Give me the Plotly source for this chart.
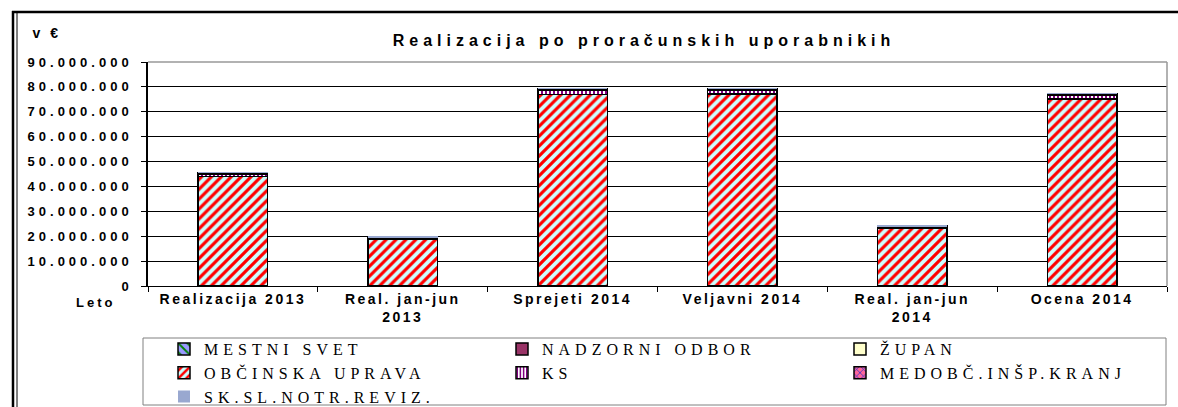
import plotly.graph_objects as go

categories = ["Realizacija 2013", "Real. jan-jun<br>2013", "Sprejeti 2014",
              "Veljavni 2014", "Real. jan-jun<br>2014", "Ocena 2014"]

mestni_svet = [150000, 80000, 300000, 300000, 100000, 250000]
nadzorni_odbor = [20000, 10000, 30000, 30000, 10000, 20000]
zupan = [250000, 120000, 300000, 300000, 120000, 280000]
obcinska_uprava = [44000000, 18900000, 77000000, 77100000, 23300000, 75200000]
ks = [1100000, 500000, 1500000, 1500000, 500000, 1400000]
medobc = [150000, 70000, 200000, 200000, 70000, 170000]
sk_sl = [50000, 20000, 70000, 70000, 20000, 50000]

y_ticks = [0, 10000000, 20000000, 30000000, 40000000, 50000000,
           60000000, 70000000, 80000000, 90000000]

# (name, values, marker, legend rank); drawn bottom -> top in list order
series = [
    ("OBČINSKA UPRAVA", obcinska_uprava, dict(color="#ccffff", pattern=dict(shape="/", fgcolor="#ff0000", bgcolor="#ccffff", size=7, solidity=0.45, fillmode="replace")), 4),
    ("KS", ks, dict(color="#ffffff", pattern=dict(shape="|", fgcolor="#800080", bgcolor="#ffffff", size=4, solidity=0.5, fillmode="replace")), 5),
    ("MESTNI SVET", mestni_svet, dict(color="#9999ff", pattern=dict(shape="\\", fgcolor="#008000", bgcolor="#9999ff", size=8, solidity=0.3, fillmode="replace")), 1),
    ("NADZORNI ODBOR", nadzorni_odbor, dict(color="#993366"), 2),
    ("ŽUPAN", zupan, dict(color="#ffffcc"), 3),
    ("MEDOBČ.INŠP.KRANJ", medobc, dict(color="#ff6699", pattern=dict(shape="x", fgcolor="#3333cc", bgcolor="#ff6699", size=6, solidity=0.3, fillmode="replace")), 6),
    ("SK.SL.NOTR.REVIZ.", sk_sl, dict(color="#99a8d0"), 7),
]

fig = go.Figure()
for name, vals, mk, rank in series:
    line_w = 0 if name.startswith("SK") else 1.5
    mk = dict(mk)
    mk["line"] = dict(color="#000000", width=line_w)
    fig.add_trace(go.Bar(name=name, x=categories, y=vals, marker=mk, legendrank=rank))

W, H = 1178, 407
L, R, T, B = 148, 11, 62, 121

def px_x(px):
    return (px - L) / (W - L - R)

def px_y(py):
    return (H - B - py) / (H - T - B)

fig.update_layout(
    width=W, height=H,
    margin=dict(l=L, r=R, t=T, b=B, autoexpand=False),
    barmode="stack",
    bargap=0.59,
    separators=",.",
    paper_bgcolor="white",
    plot_bgcolor="white",
    font=dict(family="Liberation Sans, Arial, sans-serif", color="#000000"),
    showlegend=True,
    legend=dict(
        orientation="h",
        x=px_x(164), xanchor="left",
        y=px_y(332), yanchor="top",
        entrywidth=293,
        entrywidthmode="pixels",
        font=dict(family="Liberation Serif, Times New Roman, serif", size=16, color="#000000"),
        bgcolor="rgba(0,0,0,0)",
        borderwidth=0,
        traceorder="normal",
        tracegroupgap=0,
    ),
    title=dict(
        text="<b>Realizacija po proračunskih uporabnikih</b>",
        x=644 / W, xanchor="center",
        y=1 - 40 / H, yanchor="middle",
        font=dict(size=16, family="Liberation Sans, Arial, sans-serif"),
    ),
)

fig.update_yaxes(
    range=[0, 90000000],
    tickvals=y_ticks,
    tickformat=",d",
    showgrid=True, gridcolor="#000000", gridwidth=1,
    ticks="outside", ticklen=5, tickcolor="#000000",
    showline=True, linecolor="#000000", linewidth=1.5,
    tickfont=dict(size=13, family="Liberation Sans, Arial, sans-serif", weight="bold"),
    ticklabelstandoff=6,
    zeroline=False,
)
fig.update_xaxes(
    type="category",
    tickson="boundaries",
    ticks="outside", ticklen=5, tickcolor="#000000",
    showline=True, linecolor="#000000", linewidth=1,
    tickfont=dict(size=14, family="Liberation Sans, Arial, sans-serif", weight="bold"),
)

# plot area top/right grey border
fig.add_shape(type="line", xref="paper", yref="paper", x0=0, x1=1, y0=1, y1=1,
              line=dict(color="#999999", width=1.5))
fig.add_shape(type="line", xref="paper", yref="paper", x0=1, x1=1, y0=0, y1=1,
              line=dict(color="#999999", width=1.5))

# legend box
fig.add_shape(type="rect", xref="paper", yref="paper",
              x0=px_x(143), x1=px_x(1166), y0=px_y(405), y1=px_y(338),
              line=dict(color="#808080", width=1))
# outer frame
fig.add_shape(type="line", xref="paper", yref="paper",
              x0=px_x(12), x1=px_x(1180), y0=px_y(12), y1=px_y(12),
              line=dict(color="#000000", width=2.5))
fig.add_shape(type="line", xref="paper", yref="paper",
              x0=px_x(13), x1=px_x(13), y0=px_y(11), y1=px_y(410),
              line=dict(color="#000000", width=2.5))
fig.add_shape(type="line", xref="paper", yref="paper",
              x0=px_x(17), x1=px_x(17), y0=px_y(13), y1=px_y(410),
              line=dict(color="#000000", width=1))

fig.add_annotation(text="<b>v €</b>", xref="paper", yref="paper",
                   x=px_x(35), y=px_y(33), xanchor="left", yanchor="middle",
                   showarrow=False, font=dict(size=14))
fig.add_annotation(text="<b>Leto</b>", xref="paper", yref="paper",
                   x=px_x(80), y=px_y(302), xanchor="left", yanchor="middle",
                   showarrow=False, font=dict(size=13))

post = """
document.body.style.margin = '0';
document.body.style.overflow = 'hidden';
var gd = document.getElementById('{plot_id}');
function sp(sel, v) { gd.querySelectorAll(sel).forEach(function(t){ t.style.letterSpacing = v; }); }
sp('.ytick text', '4px');
sp('.xtick text', '2.5px');
sp('.gtitle', '5px');
sp('.legendtext', '5px');
sp('.annotation-text', '3px');
"""

fig.write_html("out.html", post_script=post, config={"displayModeBar": False})
